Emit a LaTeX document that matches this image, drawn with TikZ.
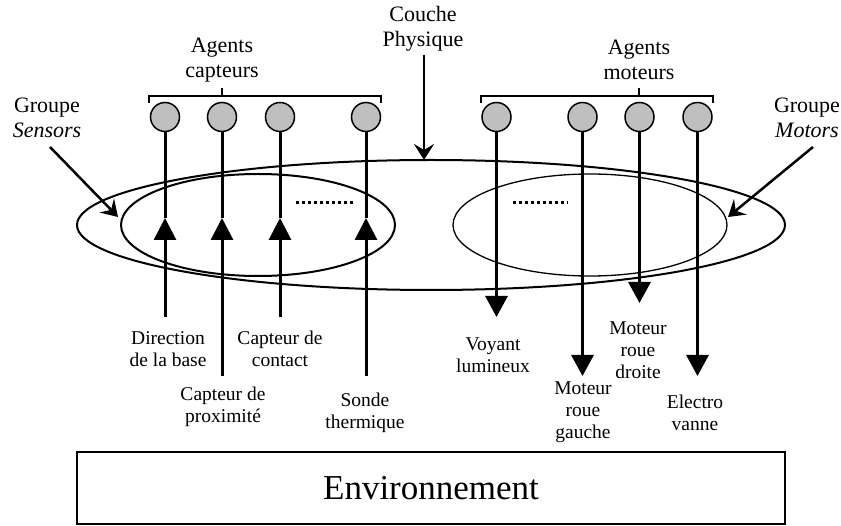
\documentclass[tikz,border=0pt]{standalone}
\usepackage{fontspec}
\setmainfont{Liberation Serif}
\usetikzlibrary{arrows.meta}
\begin{document}
\begin{tikzpicture}[x=1pt,y=-1pt,
  lbl/.style={align=center,inner sep=0pt,font=\fontsize{19.5pt}{22pt}\selectfont},
  head/.style={align=center,inner sep=0pt,font=\fontsize{22pt}{25pt}\selectfont},
  agent/.style={circle,draw,line width=1.5pt,fill=gray!50,minimum size=29pt,inner sep=0pt},
  wire/.style={line width=3pt},
  upin/.style={wire,-{Triangle[length=22pt,width=22pt]}},
  downout/.style={wire,-{Triangle[length=21pt,width=22pt]}},
  pointer/.style={line width=2.5pt,-{Stealth[length=16pt,width=20pt,inset=6pt]}},
  brace/.style={line width=1.5pt},
  dots/.style={line width=3pt,dash pattern=on 3pt off 3pt}]
\useasboundingbox (0,0) rectangle (841,526);

% layer ellipses
\draw[line width=2pt] (431,225) ellipse [x radius=354pt, y radius=65pt];
\draw[line width=2pt] (258,225) ellipse [x radius=137pt, y radius=51pt];
\draw[line width=1.3pt] (590,225) ellipse [x radius=137pt, y radius=51pt];

% titles
\node[head] (cp) at (423,29) {Couche\\Physique};
\node[head] (ac) at (222,60) {Agents\\capteurs};
\node[head] (am) at (639,60) {Agents\\moteurs};
\node[head] (gs) at (47,118) {Groupe\\\textit{Sensors}};
\node[head] (gm) at (807,118) {Groupe\\\textit{Motors}};

% agents
\foreach \n/\x in {s1/165,s2/222,s3/280,s4/366,m1/496.5,m2/582.5,m3/639.5,m4/697.5}
  \node[agent] (\n) at (\x,117) {};

% brackets
\draw[brace] (149,103) -- (149,96) -- (381,96) -- (381,103);
\draw[brace] (222,96) -- (222,88);
\draw[brace] (481,103) -- (481,96) -- (713,96) -- (713,103);
\draw[brace] (639,96) -- (639,88);

% sensor signals
\foreach \n/\x/\b in {s1/165/317,s2/222/376,s3/280/317,s4/366/376}{
  \coordinate (\n tip) at (\x,218);
  \coordinate (\n end) at (\x,\b);
  \draw[wire] (\n) -- (\n tip);
  \draw[upin] (\n end) -- (\n tip);
}

% motor commands
\foreach \n/\x/\b in {m1/496.5/317,m2/582.5/376,m3/639.5/303,m4/697.5/376}{
  \coordinate (\n tip) at (\x,\b);
  \draw[downout] (\n) -- (\n tip);
}

% ellipsis marks
\draw[dots] (296,203) -- (353,203);
\draw[dots] (513,203) -- (568,203);

% pointers
\coordinate (cpt) at (424,160);
\coordinate (gst) at (118,217);
\coordinate (gmt) at (728,217);
\draw[pointer,shorten <=3pt] (cp.south -| cpt) -- (cpt);
\draw[pointer] (50,147) -- (gst);
\draw[pointer] (813,147) -- (gmt);

% signal labels
\node[lbl] (d1) at (168,349) {Direction\\de la base};
\node[lbl] (d3) at (280,349) {Capteur de\\contact};
\node[lbl] (d2) at (223,407) {Capteur de\\proximité};
\node[lbl] (d4) at (365,413) {Sonde\\thermique};
\node[lbl] (e1) at (493,355) {Voyant\\lumineux};
\node[lbl] (e2) at (583,412) {Moteur\\roue\\gauche};
\node[lbl] (e3) at (638,350) {Moteur\\roue\\droite};
\node[lbl] (e4) at (695,413) {Electro\\vanne};

% environment
\node[draw,line width=2.5pt,minimum width=708pt,minimum height=72pt,inner sep=0pt,
      font=\fontsize{35pt}{40pt}\selectfont] (env) at (431,488) {Environnement};
\end{tikzpicture}
\end{document}
